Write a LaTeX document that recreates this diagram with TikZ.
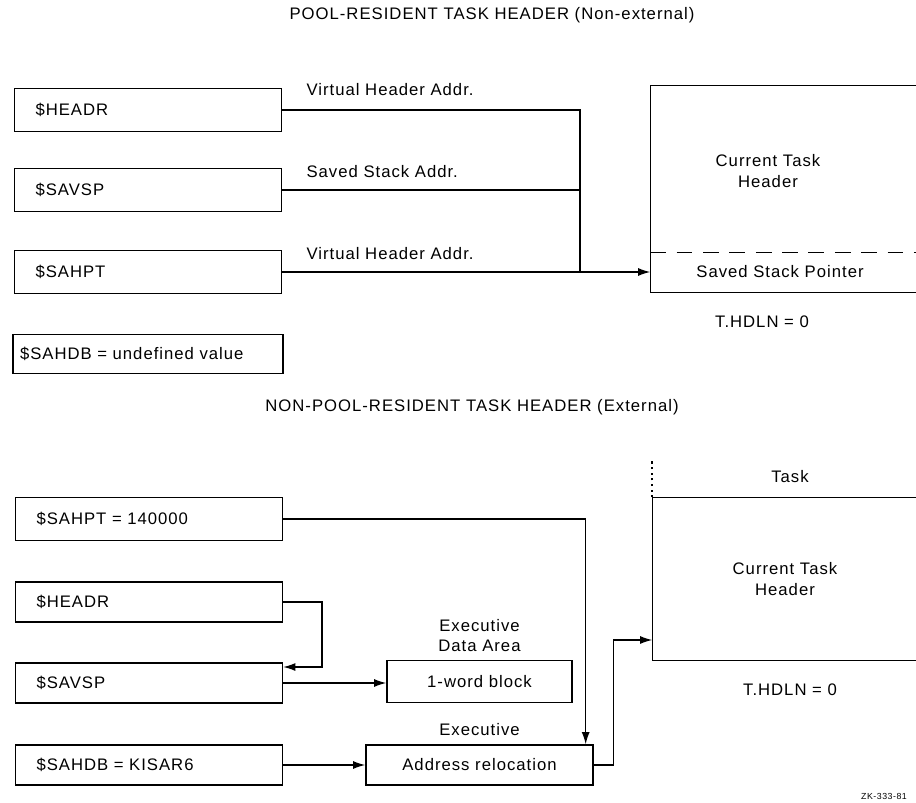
\documentclass[tikz,border=0pt]{standalone}
\usepackage{fontspec}
\setmainfont{Liberation Sans}[LetterSpace=6]
\usepackage{tikz}
\usetikzlibrary{arrows.meta,positioning}

\begin{document}
\begin{tikzpicture}[x=0.02cm, y=-0.02cm, line width=0.8pt,
    every node/.style={font=\fontsize{9.5}{11.5}\selectfont},
    symbox/.style={draw, text width=4.5cm, inner xsep=0.42cm, minimum height=0.86cm, align=left},
    exbox/.style={draw, minimum height=0.84cm},
    ptr/.style={-{Latex[length=7pt,width=4.6pt]}}]
    \useasboundingbox (0,0) rectangle (916,803);

    % pool-resident header
    \node (title1) at (492,15) {POOL-RESIDENT TASK HEADER (Non-external)};
    \node[symbox] (headr) at (148,110) {\$HEADR};
    \node[symbox] (savsp) at (148,190) {\$SAVSP};
    \node[symbox] (sahpt) at (148,272) {\$SAHPT};
    \node[symbox, inner xsep=0.14cm, text width=5.12cm, minimum height=0.78cm] (sahdb) at (148,354) {\$SAHDB = undefined value};

    \node[inner sep=0, minimum width=5.3cm, minimum height=4.12cm] (cth) at (783.5,189) {};
    \draw (cth.north east) -- (cth.north west) -- (cth.south west) -- (cth.south east);
    \draw[dashed, dash pattern=on 9pt off 6pt] ([yshift=0.8cm]cth.south west) -- ([yshift=0.8cm]cth.south east);
    \node[align=center] (cthtxt) at (768,171) {Current Task\\Header};
    \node (ssp) at (780,272) {Saved Stack Pointer};
    \node (hdln1) at (762,322) {T.HDLN = 0};

    \coordinate (jn) at (580,272);
    \draw (headr.east) -| (jn);
    \draw (savsp.east) -- (savsp.east -| jn);
    \draw[ptr] (sahpt.east) -- (sahpt.east -| cth.west);
    \node[anchor=west] (lbl1) at (300,90) {Virtual Header Addr.};
    \node[anchor=west] (lbl2) at (300,172) {Saved Stack Addr.};
    \node[anchor=west] (lbl3) at (300,254) {Virtual Header Addr.};

    % non-pool-resident header
    \node (title2) at (472,407) {NON-POOL-RESIDENT TASK HEADER (External)};
    \node[symbox] (sahpt2) at (149,519) {\$SAHPT = 140000};
    \node[symbox, minimum height=0.8cm] (headr2) at (149,602) {\$HEADR};
    \node[symbox, minimum height=0.8cm] (savsp2) at (149,683) {\$SAVSP};
    \node[symbox, minimum height=0.8cm] (sahdb2) at (149,765) {\$SAHDB = KISAR6};

    \node[exbox, minimum width=3.7cm] (word) at (479.5,681.5) {1-word block};
    \node[align=center, above=1pt of word] (edata) {Executive\\Data Area};
    \node[exbox, minimum width=4.54cm, minimum height=0.8cm] (addr) at (479.5,765) {Address relocation};
    \node[above=1pt of addr] (exec) {Executive};

    \node[inner sep=0, minimum width=5.26cm, minimum height=3.24cm] (cth2) at (784.5,579) {};
    \draw (cth2.north east) -- (cth2.north west) -- (cth2.south west) -- (cth2.south east);
    \draw[dotted, line width=1.2pt] (cth2.north west) -- ++(0,-36);
    \node (task) at (790,477) {Task};
    \node[align=center] (cth2txt) at (785,579) {Current Task\\Header};
    \node (hdln2) at (790,690) {T.HDLN = 0};

    \draw[ptr] (sahpt2.east) -| ([xshift=-0.16cm]addr.north east);
    \draw[ptr] (headr2.east) -- ++(39,0) |- ([yshift=0.32cm]savsp2.east);
    \draw[ptr] (savsp2.east) -- (savsp2.east -| word.west);
    \draw[ptr] (sahdb2.east) -- (addr.west);
    \draw[ptr] (addr.east) -- ++(20,0) |- ([yshift=-1.22cm]cth2.west);

    \node[font=\fontsize{5}{6}\selectfont] (figno) at (884,796) {ZK-333-81};
\end{tikzpicture}
\end{document}
